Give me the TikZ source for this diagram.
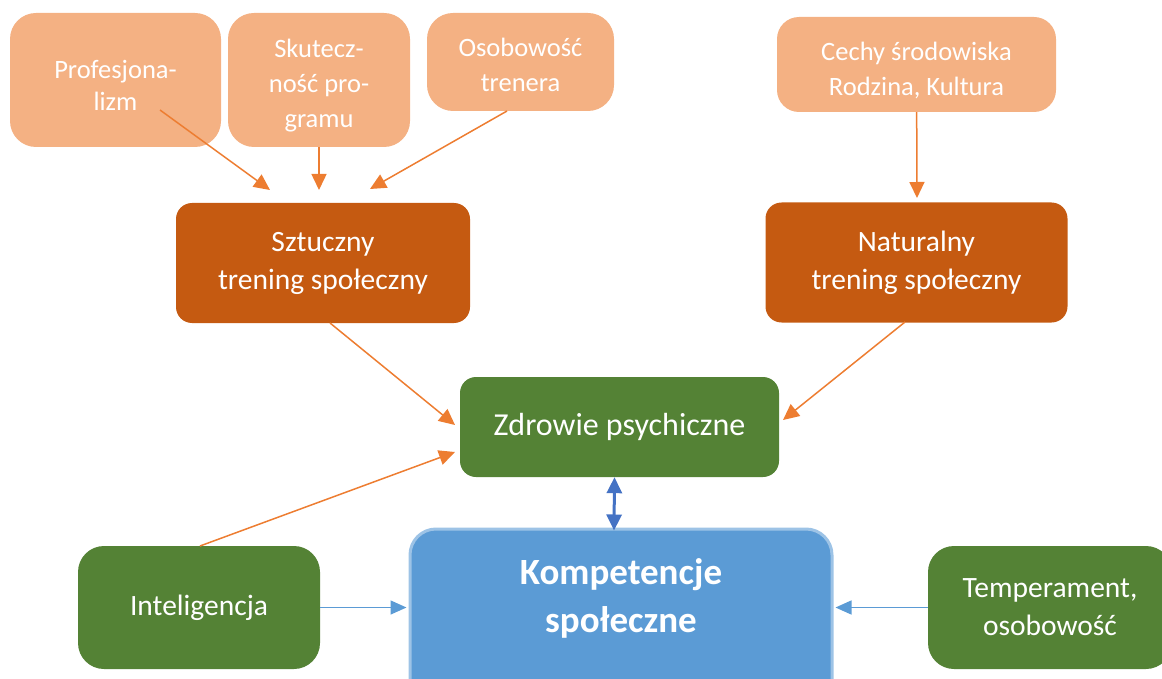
\documentclass[tikz,border=0pt]{standalone}
\usepackage{fontspec}
\setmainfont{Carlito}
\usetikzlibrary{arrows.meta,positioning,calc}
\definecolor{peach}{RGB}{244,177,131}
\definecolor{rust}{RGB}{197,90,17}
\definecolor{leaf}{RGB}{84,130,53}
\definecolor{sky}{RGB}{91,155,213}
\definecolor{skyedge}{RGB}{157,195,230}
\definecolor{carrot}{RGB}{237,125,49}
\definecolor{royal}{RGB}{68,114,196}
\tikzstyle{source}=[rectangle,
                    fill=peach,
                    text=white,
                    align=center,
                    inner sep=0pt,
                    rounded corners=26pt,
                    font=\fontsize{26.5}{35}\selectfont]
\tikzstyle{training}=[rectangle, fill=rust, text=white, align=center,
inner sep=0pt, rounded corners=16pt, minimum height=120pt,
font=\fontsize{29.5}{38}\selectfont]
\tikzstyle{factor}=[rectangle, fill=leaf, text=white, align=center,
inner sep=0pt, rounded corners=26pt, minimum height=123pt,
font=\fontsize{29.5}{38}\selectfont]
\tikzstyle{target}=[rectangle, draw=skyedge, line width=3pt, fill=sky,
text=white, align=center, inner sep=0pt, rounded corners=26pt,
font=\bfseries\fontsize{37}{48}\selectfont]
\tikzstyle{line} = [draw=carrot, line width=1.5pt, -{Triangle[length=16pt,width=15pt]}]
\tikzstyle{bline} = [draw=sky, line width=1.5pt, -{Triangle[length=16pt,width=14pt]}]
\tikzstyle{dline} = [draw=royal, line width=3pt,
{Triangle[length=16pt,width=15pt]}-{Triangle[length=16pt,width=15pt]}]

\begin{document}
\begin{tikzpicture}[x=1pt,y=-1pt]
      \useasboundingbox (0,0) rectangle (1162,679);
      \clip (0,0) rectangle (1162,679);

      % top row
      \node [source, minimum width=211pt, minimum height=134pt] (prof) at (115.5,80) {\strut\\[-31pt]Profesjona-\\[-3pt]lizm};
      \node [source, minimum width=182pt, minimum height=134pt] (skut) at (319,80) {\strut\\[-29pt]Skutecz-\\ność pro-\\gramu\vphantom{p}};
      \node [source, minimum width=187pt, minimum height=98pt] (osob) at (520.5,62) {\strut\\[-32pt]Osobowość\\trenera\vphantom{p}};
      \node [source, minimum width=279pt, minimum height=95pt, rounded corners=22pt] (cechy) at (916.5,64.5) {\strut\\[-29pt]Cechy środowiska\\Rodzina, Kultura\vphantom{p}};

      \node [training, minimum width=294pt] (sztuczny) at (323,263) {Sztuczny\\trening społeczny};
      \node [training, minimum width=302pt, below of=cechy, node distance=198pt] (naturalny) {Naturalny\\trening społeczny};

      \node [factor, minimum width=319pt, minimum height=100pt, rounded corners=16pt,
             font=\fontsize{32}{40}\selectfont] (zdrowie) at (619.5,427) {Zdrowie psychiczne};
      \node [target, minimum width=422pt, minimum height=182pt] (komp) at (621,620) {Kompetencje\\społeczne\\[-14pt]\strut};
      \node [factor, minimum width=242pt] (intel) at (199,607.5) {Inteligencja};
      \node [factor, minimum width=244pt] (temper) at (1050,607.5) {Temperament,\\osobowość};

      % free ends of the arrows
      \coordinate (prof-out) at (160,110);
      \coordinate (prof-in) at (270,190);
      \coordinate (skut-in) at (319,190);
      \coordinate (osob-out) at (507,111);
      \coordinate (osob-in) at (370,189);
      \coordinate (cechy-in) at (917,198);
      \coordinate (szt-out) at (330,323);
      \coordinate (szt-in) at (455,425);
      \coordinate (nat-out) at (905,322);
      \coordinate (nat-in) at (783,420);
      \coordinate (intel-out) at (200,546);
      \coordinate (intel-in) at (455,452);

      \path (prof-out) edge[line] (prof-in);
      \path (skut) edge[line] (skut-in);
      \path (osob-out) edge[line] (osob-in);
      \path (cechy) edge[line] (cechy-in);
      \path (szt-out) edge[line] (szt-in);
      \path (nat-out) edge[line] (nat-in);
      \path (intel-out) edge[line] (intel-in);
      \path ([xshift=-5pt]zdrowie.south) edge[dline] ([xshift=-7pt,yshift=-3pt]komp.north);
      \path (intel.east) edge[bline] ([xshift=-2pt]komp.west |- intel.east);
      \path (temper.west) edge[bline] ([xshift=2pt]komp.east |- temper.west);
\end{tikzpicture}
\end{document}
